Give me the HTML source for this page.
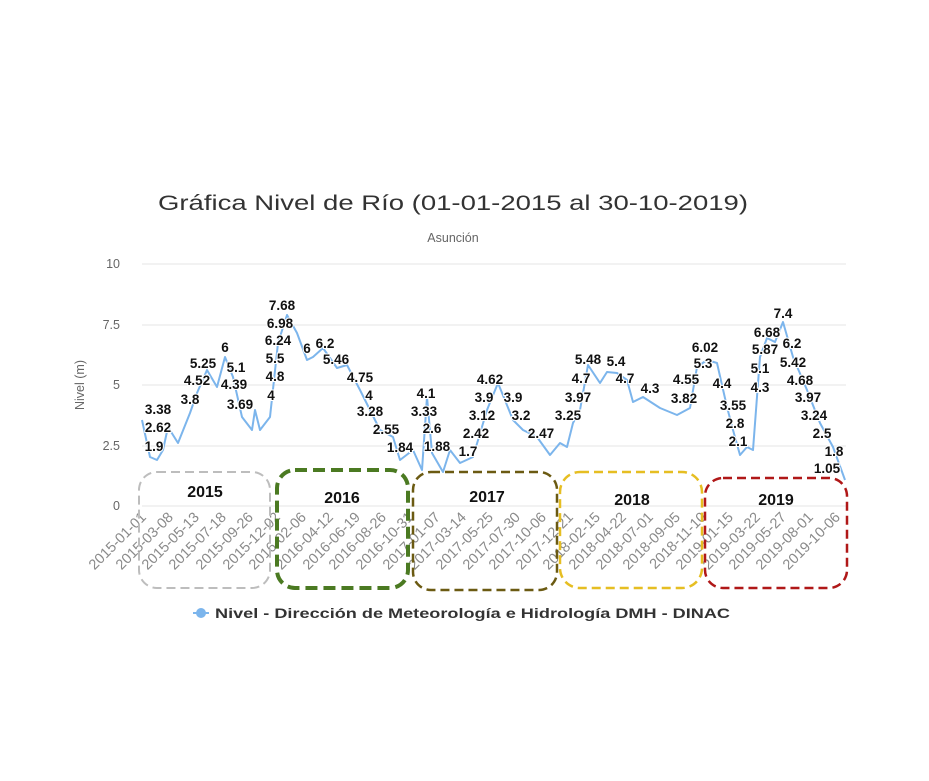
<!DOCTYPE html>
<html><head><meta charset="utf-8"><style>
html,body{margin:0;padding:0;background:#fff;}
svg{display:block;font-family:"Liberation Sans",sans-serif;}
.dl{font-size:13.5px;font-weight:bold;fill:#111;text-anchor:middle;paint-order:stroke;stroke:#fff;stroke-width:2px;}
.xl{font-size:14.5px;fill:#8a8a8a;text-anchor:end;}
.yr{font-size:16px;font-weight:bold;fill:#111;text-anchor:middle;}
</style></head><body>
<svg width="929" height="781" viewBox="0 0 929 781">
<rect width="929" height="781" fill="#fff"/>
<text x="453" y="210" font-size="21" fill="#333" text-anchor="middle" textLength="590" lengthAdjust="spacingAndGlyphs">Gráfica Nivel de Río (01-01-2015 al 30-10-2019)</text>
<text x="453" y="242" font-size="12.5" fill="#666" text-anchor="middle">Asunción</text>
<g stroke="#e6e6e6" stroke-width="1">
<line x1="142" y1="264" x2="846" y2="264"/>
<line x1="142" y1="325" x2="846" y2="325"/>
<line x1="142" y1="385" x2="846" y2="385"/>
<line x1="142" y1="446" x2="846" y2="446"/>
<line x1="142" y1="506" x2="846" y2="506"/>
</g>
<g font-size="12.5" fill="#666" text-anchor="end">
<text x="120" y="268">10</text><text x="120" y="329">7.5</text><text x="120" y="389">5</text><text x="120" y="450">2.5</text><text x="120" y="510">0</text>
</g>
<text transform="translate(84,385) rotate(-90)" font-size="12.5" fill="#666" text-anchor="middle">Nivel (m)</text>
<polyline fill="none" stroke="#7cb5ec" stroke-width="2" stroke-linejoin="round" points="142,420 150,457 157,460 163,450 168,427 178,443 190,413 197,393 207,370 217,387 225,357 233,377 242,417 252,430 255,410 260,430 270,417 278,343 287,315 297,333 307,360 313,357 323,348 337,368 347,365 360,390 370,410 380,430 393,437 400,460 413,450 422,470 427,397 432,453 443,472 450,450 460,463 473,457 487,410 498,383 513,420 523,430 537,437 550,455 560,443 567,447 573,423 580,410 588,365 600,383 607,372 617,373 627,380 633,402 643,397 660,408 677,415 690,408 697,367 707,360 717,363 727,407 733,430 740,455 747,447 753,450 760,357 767,338 775,342 783,322 793,357 807,390 820,423 833,447 845,480"/>
<g class="dl">
<text x="158" y="414">3.38</text><text x="158" y="432">2.62</text><text x="154" y="451">1.9</text>
<text x="190" y="404">3.8</text><text x="197" y="385">4.52</text><text x="203" y="368">5.25</text>
<text x="225" y="352">6</text><text x="236" y="372">5.1</text><text x="234" y="389">4.39</text><text x="240" y="409">3.69</text>
<text x="271" y="400">4</text><text x="275" y="381">4.8</text><text x="275" y="363">5.5</text><text x="278" y="345">6.24</text><text x="280" y="328">6.98</text><text x="282" y="310">7.68</text>
<text x="307" y="353">6</text><text x="325" y="348">6.2</text><text x="336" y="364">5.46</text><text x="360" y="382">4.75</text><text x="369" y="400">4</text><text x="370" y="416">3.28</text><text x="386" y="434">2.55</text><text x="400" y="452">1.84</text>
<text x="426" y="398">4.1</text><text x="424" y="416">3.33</text><text x="432" y="433">2.6</text><text x="437" y="451">1.88</text>
<text x="490" y="384">4.62</text><text x="484" y="402">3.9</text><text x="513" y="402">3.9</text><text x="482" y="420">3.12</text><text x="521" y="420">3.2</text><text x="476" y="438">2.42</text><text x="541" y="438">2.47</text><text x="468" y="456">1.7</text>
<text x="568" y="420">3.25</text><text x="578" y="402">3.97</text><text x="581" y="383">4.7</text><text x="588" y="364">5.48</text><text x="616" y="366">5.4</text><text x="625" y="383">4.7</text><text x="650" y="393">4.3</text><text x="686" y="384">4.55</text><text x="684" y="403">3.82</text>
<text x="705" y="352">6.02</text><text x="703" y="368">5.3</text><text x="722" y="388">4.4</text><text x="733" y="410">3.55</text><text x="735" y="428">2.8</text><text x="738" y="446">2.1</text>
<text x="767" y="337">6.68</text><text x="765" y="354">5.87</text><text x="760" y="373">5.1</text><text x="760" y="392">4.3</text>
<text x="783" y="318">7.4</text><text x="792" y="348">6.2</text><text x="793" y="367">5.42</text><text x="800" y="385">4.68</text><text x="808" y="402">3.97</text><text x="814" y="420">3.24</text><text x="822" y="438">2.5</text><text x="834" y="456">1.8</text><text x="827" y="473">1.05</text>
</g>
<g class="xl">
<text transform="translate(147,518) rotate(-45)">2015-01-01</text>
<text transform="translate(174,518) rotate(-45)">2015-03-08</text>
<text transform="translate(200,518) rotate(-45)">2015-05-13</text>
<text transform="translate(227,518) rotate(-45)">2015-07-18</text>
<text transform="translate(254,518) rotate(-45)">2015-09-26</text>
<text transform="translate(281,518) rotate(-45)">2015-12-02</text>
<text transform="translate(307,518) rotate(-45)">2016-02-06</text>
<text transform="translate(334,518) rotate(-45)">2016-04-12</text>
<text transform="translate(361,518) rotate(-45)">2016-06-19</text>
<text transform="translate(387,518) rotate(-45)">2016-08-26</text>
<text transform="translate(414,518) rotate(-45)">2016-10-31</text>
<text transform="translate(441,518) rotate(-45)">2017-01-07</text>
<text transform="translate(467,518) rotate(-45)">2017-03-14</text>
<text transform="translate(494,518) rotate(-45)">2017-05-25</text>
<text transform="translate(521,518) rotate(-45)">2017-07-30</text>
<text transform="translate(547,518) rotate(-45)">2017-10-06</text>
<text transform="translate(574,518) rotate(-45)">2017-12-21</text>
<text transform="translate(601,518) rotate(-45)">2018-02-15</text>
<text transform="translate(627,518) rotate(-45)">2018-04-22</text>
<text transform="translate(654,518) rotate(-45)">2018-07-01</text>
<text transform="translate(681,518) rotate(-45)">2018-09-05</text>
<text transform="translate(707,518) rotate(-45)">2018-11-10</text>
<text transform="translate(734,518) rotate(-45)">2019-01-15</text>
<text transform="translate(761,518) rotate(-45)">2019-03-22</text>
<text transform="translate(787,518) rotate(-45)">2019-05-27</text>
<text transform="translate(814,518) rotate(-45)">2019-08-01</text>
<text transform="translate(841,518) rotate(-45)">2019-10-06</text>
</g>
<g fill="none">
<rect x="139" y="472" width="131" height="116" rx="18" stroke="#bdbdbd" stroke-width="2" stroke-dasharray="9,5"/>
<rect x="277" y="470" width="131" height="118" rx="18" stroke="#4b7a22" stroke-width="4" stroke-dasharray="12,6"/>
<rect x="413" y="472" width="144" height="118" rx="18" stroke="#6b5a12" stroke-width="2.5" stroke-dasharray="9,5"/>
<rect x="560" y="472" width="142" height="116" rx="20" stroke="#e6be22" stroke-width="2.5" stroke-dasharray="9,5"/>
<rect x="705" y="478" width="142" height="110" rx="18" stroke="#b01818" stroke-width="2.5" stroke-dasharray="9,5"/>
</g>
<g class="yr">
<text x="205" y="497">2015</text><text x="342" y="503">2016</text><text x="487" y="502">2017</text><text x="632" y="505">2018</text><text x="776" y="505">2019</text>
</g>
<circle cx="201" cy="613" r="5" fill="#7cb5ec"/>
<line x1="193" y1="613" x2="209" y2="613" stroke="#7cb5ec" stroke-width="2"/>
<text x="215" y="618" font-size="14" font-weight="bold" fill="#333" textLength="515" lengthAdjust="spacingAndGlyphs">Nivel - Dirección de Meteorología e Hidrología DMH - DINAC</text>
</svg>
</body></html>
